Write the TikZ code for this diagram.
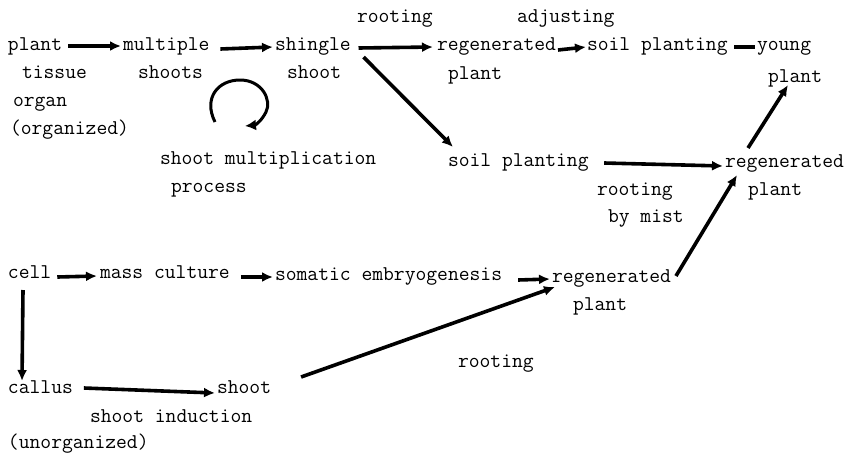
\documentclass[tikz,border=0pt]{standalone}
\usepackage{fontspec}
\usetikzlibrary{arrows.meta}
\begin{document}
\begin{tikzpicture}[x=1pt,y=-1pt,
  lbl/.style={anchor=base west,inner sep=0pt,outer sep=0pt,text height=8pt,text depth=0pt,font=\ttfamily\fontsize{21}{23}\selectfont},
  conn/.style={line width=3.6pt,-{Latex[length=11pt,width=10pt]}},
  plainbar/.style={line width=3.6pt}]
\useasboundingbox (0,0) rectangle (850,453);
% labels
\node[lbl] (rootT) at (357,22) {rooting};
\node[lbl] (adj) at (517,22) {adjusting};
\node[lbl] (plant) at (8,50) {plant};
\node[lbl] (mult) at (123,50) {multiple};
\node[lbl] (shing) at (275,50) {shingle};
\node[lbl] (regT) at (437,50) {regenerated};
\node[lbl] (soilT) at (587,50) {soil planting};
\node[lbl] (young) at (757,50) {young};
\node[lbl] (tissue) at (22,78) {tissue};
\node[lbl] (shoots) at (138,78) {shoots};
\node[lbl] (shootA) at (287,78) {shoot};
\node[lbl] (plantT) at (448,79) {plant};
\node[lbl] (plantY) at (768,82) {plant};
\node[lbl] (organ) at (13,106) {organ};
\node[lbl] (organized) at (10,134) {(organized)};
\node[lbl] (smp) at (160,164) {shoot multiplication};
\node[lbl] (process) at (171,192) {process};
\node[lbl] (soilM) at (448,166) {soil planting};
\node[lbl] (regR) at (725,167) {regenerated};
\node[lbl] (plantR) at (748,195) {plant};
\node[lbl] (rootM) at (597,195) {rooting};
\node[lbl] (mist) at (608,222) {by mist};
\node[lbl] (cell) at (8,278) {cell};
\node[lbl] (mass) at (100,278) {mass culture};
\node[lbl] (soma) at (275,280) {somatic embryogenesis};
\node[lbl] (regL) at (552,282) {regenerated};
\node[lbl] (plantL) at (573,310) {plant};
\node[lbl] (rootL) at (458,367) {rooting};
\node[lbl] (callus) at (8,393) {callus};
\node[lbl] (shootB) at (217,393) {shoot};
\node[lbl] (induct) at (90,422) {shoot induction};
\node[lbl] (unorg) at (8,448) {(unorganized)};
% connectors
\draw[conn] ([xshift=6pt]plant.east) -- ([xshift=-2pt]mult.west);
\draw[conn] ([xshift=10.8pt,yshift=-3pt]mult.east) -- ([xshift=-2pt,yshift=-1pt]shing.west);
\draw[conn] ([xshift=7.8pt,yshift=-2pt]shing.east) -- ([xshift=-4pt,yshift=-1pt]regT.west);
\draw[conn] ([xshift=2pt,yshift=-4pt]regT.east) -- ([xshift=-1pt,yshift=-1pt]soilT.west);
\draw[plainbar] ([xshift=6.6pt,yshift=-1pt]soilT.east) -- ([xshift=-2pt,yshift=-1pt]young.west);
\draw[conn] ([xshift=12.8pt,yshift=-7pt]shing.south east) -- ([xshift=5pt,yshift=11pt]soilM.north west);
\draw[conn] ([xshift=15.6pt,yshift=-1pt]soilM.east) -- ([xshift=-2pt,yshift=-3pt]regR.west);
\draw[conn] ([xshift=23pt,yshift=11pt]regR.north west) -- ([xshift=20pt,yshift=-3pt]plantY.south west);
\draw[conn] ([xshift=5pt,yshift=2pt]regL.east) -- ([xshift=12pt,yshift=-8pt]regR.south west);
\draw[conn] ([xshift=6pt,yshift=-3pt]cell.east) -- ([xshift=-3pt,yshift=-2pt]mass.west);
\draw[conn] ([xshift=11pt,yshift=-3pt]mass.east) -- ([xshift=-2pt,yshift=-1pt]soma.west);
\draw[conn] ([xshift=16pt,yshift=-4pt]soma.east) -- ([xshift=-2pt,yshift=-1pt]regL.west);
\draw[conn] ([xshift=15pt,yshift=-12pt]cell.south west) -- ([xshift=14pt,yshift=4pt]callus.north west);
\draw[conn] ([xshift=11pt,yshift=1pt]callus.east) -- ([xshift=-2pt,yshift=-4pt]shootB.west);
\draw[conn] ([xshift=30pt,yshift=8pt]shootB.north east) -- ([xshift=3pt,yshift=-5pt]regL.south west);
% self loop of shoot multiplication
\coordinate (loopS) at (215,122);
\coordinate (loopE) at (245,126);
\draw[line width=3pt,-{Latex[length=11pt,width=11pt]}] (loopS) .. controls (203,98) and (218,80) .. (240,80)
  .. controls (262,80) and (272,100) .. (266,112) .. controls (262,120) and (256,125) .. (loopE);
\end{tikzpicture}
\end{document}
